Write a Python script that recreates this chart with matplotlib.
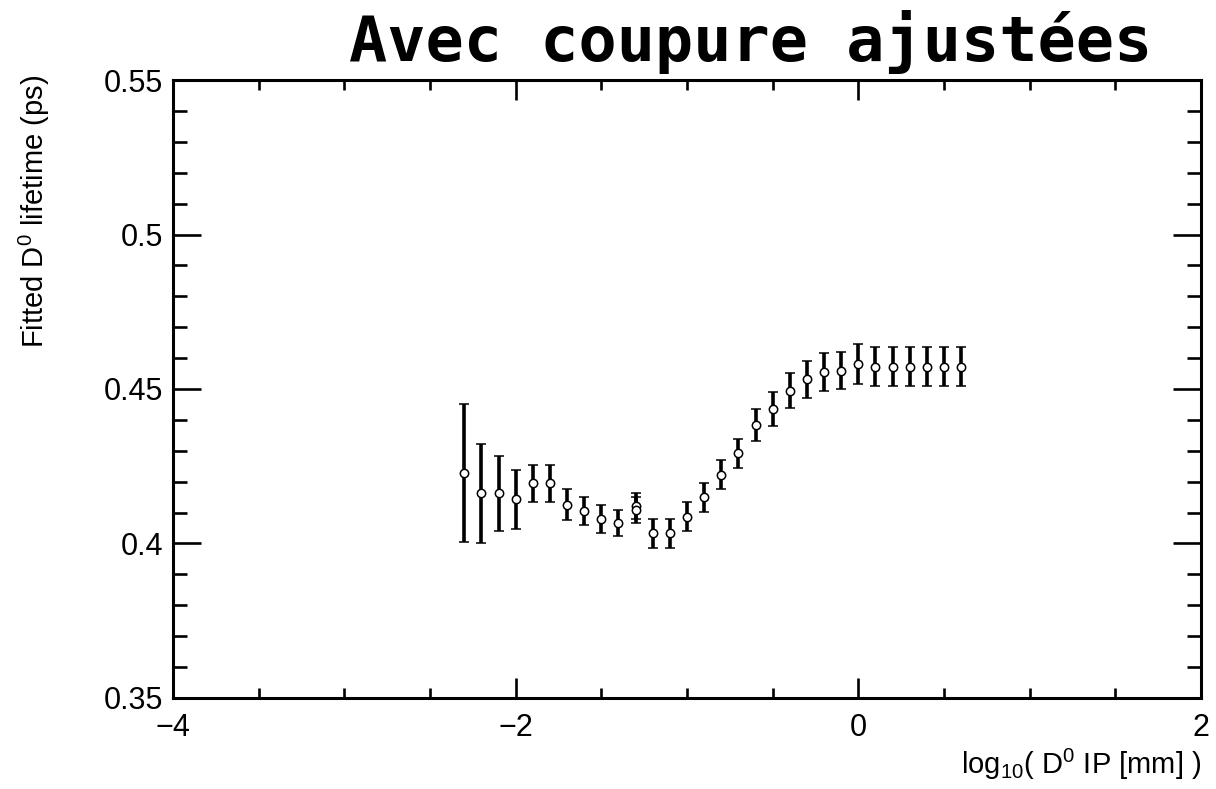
import matplotlib
matplotlib.use('Agg')
import matplotlib.pyplot as plt
from matplotlib.ticker import MultipleLocator, FormatStrFormatter

# bin centres (log10 of IP in mm) and fitted lifetimes
log_ip = [-2.3, -2.2, -2.1, -2.0, -1.9, -1.8, -1.7, -1.6, -1.5, -1.4,
          -1.3, -1.2, -1.1, -1.0, -0.9, -0.8, -0.7, -0.6, -0.5, -0.4,
          -0.3, -0.2, -0.1, 0.0, 0.1, 0.2, 0.3, 0.4, 0.5, 0.6]
tau = [0.4227, 0.4162, 0.4162, 0.4143, 0.4195, 0.4195, 0.4125, 0.4106, 0.4078, 0.4065,
       0.4122, 0.4033, 0.4033, 0.4087, 0.4150, 0.4222, 0.4292, 0.4383, 0.4434, 0.4494,
       0.4531, 0.4556, 0.4559, 0.4580, 0.4572, 0.4572, 0.4572, 0.4572, 0.4572, 0.4572]
tau_err = [0.0223, 0.0160, 0.0122, 0.0095, 0.0060, 0.0060, 0.0050, 0.0045, 0.0045, 0.0042,
           0.0042, 0.0047, 0.0047, 0.0046, 0.0047, 0.0047, 0.0047, 0.0052, 0.0055, 0.0057,
           0.0060, 0.0062, 0.0060, 0.0065, 0.0063, 0.0063, 0.0063, 0.0063, 0.0063, 0.0063]

# second entry sitting on top of the -1.3 bin
extra_x = [-1.3]
extra_tau = [0.4108]
extra_err = [0.0042]

title = 'Avec coupure ajustées'
xlabel = 'log$_{10}$( D$^0$ IP [mm] )'
ylabel = 'Fitted D$^0$ lifetime (ps)'

plt.rcParams['font.family'] = ['Liberation Sans', 'DejaVu Sans']
plt.rcParams['mathtext.fontset'] = 'custom'
plt.rcParams['mathtext.rm'] = 'Liberation Sans'
plt.rcParams['mathtext.it'] = 'Liberation Sans'
plt.rcParams['axes.unicode_minus'] = True


def plot_points(ax, x, y, e):
    ax.errorbar(x, y, yerr=e, fmt='o', color='black', ecolor='black',
                elinewidth=2.6, capsize=3.4, capthick=3.0,
                markersize=6, markerfacecolor='white', markeredgecolor='black',
                markeredgewidth=1.1, zorder=3)


def plotar():
    fig = plt.figure(figsize=(12.16, 7.89), dpi=100)
    ax = fig.add_axes([173/1216, 1-698/789, (1201-173)/1216, (698-80)/789])

    plot_points(ax, log_ip, tau, tau_err)
    plot_points(ax, extra_x, extra_tau, extra_err)

    ax.set_xlim(-4, 2)
    ax.set_ylim(0.35, 0.55)
    ax.xaxis.set_major_locator(MultipleLocator(2))
    ax.xaxis.set_minor_locator(MultipleLocator(0.5))
    ax.yaxis.set_major_locator(MultipleLocator(0.05))
    ax.yaxis.set_minor_locator(MultipleLocator(0.01))
    ax.yaxis.set_major_formatter(FormatStrFormatter('%g'))

    for s in ax.spines.values():
        s.set_linewidth(2.2)

    ax.tick_params(axis='both', which='both', direction='in', top=True, right=True,
                   width=1.9, labelsize=22)
    ax.tick_params(axis='x', which='major', length=14.4, pad=11)
    ax.tick_params(axis='x', which='minor', length=7.2)
    ax.tick_params(axis='y', which='major', length=20, pad=7)
    ax.tick_params(axis='y', which='minor', length=10)

    ax.set_xlabel(xlabel, fontsize=21, loc='right')
    ax.xaxis.set_label_coords(1.0, -0.079)
    ax.set_ylabel(ylabel, fontsize=21, loc='top')
    ax.yaxis.set_label_coords(-0.1177, 1.008)

    fig.text(1152/1216, 1-61/789, title, ha='right', va='baseline',
             family='DejaVu Sans Mono', weight='bold', fontsize=45.7)

    fig.savefig('out.png', dpi=100)


if __name__ == '__main__':
    plotar()
